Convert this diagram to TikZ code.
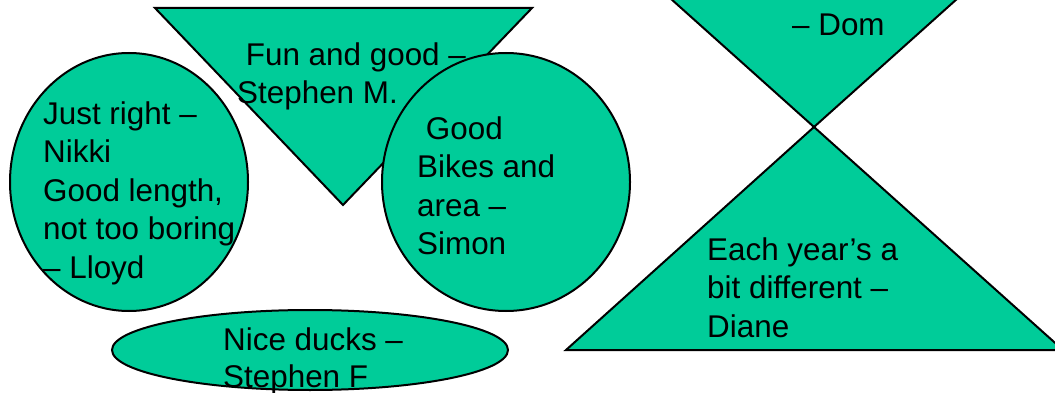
\documentclass[tikz,border=0pt]{standalone}
\usepackage{fontspec}
\setmainfont{Liberation Sans}
\usepackage{tikz}
\definecolor{shapegreen}{HTML}{00CC99}

\begin{document}
\begin{tikzpicture}[x = 1pt, y = -1pt,
                  blob/.style = {fill=shapegreen, draw=black, line width=2pt},
                  note/.style = {anchor=north west, inner sep=0pt, align=left,
                                 font=\fontsize{31.4}{38.5}\selectfont}
                  ]
                  \useasboundingbox (0,0) rectangle (1055,393);
                  \clip (0,0) rectangle (1055,393);
                  % shapes
                  \draw[blob] (129,182) ellipse [x radius=119, y radius=129];
                  \draw[blob] (155,8) -- (532,8) -- (343,205) -- cycle;
                  \draw[blob] (506,182) ellipse [x radius=124, y radius=129];
                  \draw[blob] (310,350) ellipse [x radius=198, y radius=40];
                  \draw[blob] (565,-96) -- (1063,-96) -- (814,127) -- cycle;
                  \draw[blob] (814,127) -- (1063,350) -- (566,350) -- cycle;
                  % texts
                  \node[note] (nikki) at (43,97) {\strut Just right –\\Nikki\\Good length,\\not too boring\\– Lloyd};
                  \node[note] (stephenm) at (237,38) {\strut\hspace*{0.278em}Fun and good –\\Stephen M.};
                  \node[note] (simon) at (417,112) {\strut\hspace*{0.278em}Good\\Bikes and\\area –\\Simon};
                  \node[note, font=\fontsize{31.4}{36.5}\selectfont] (stephenf) at (223,325) {\strut Nice ducks –\\Stephen F};
                  \node[note] (dom) at (792,8) {\strut – Dom};
                  \node[note] (diane) at (707,233) {\strut Each year’s a\\bit different –\\Diane};
              \end{tikzpicture}
\end{document}
